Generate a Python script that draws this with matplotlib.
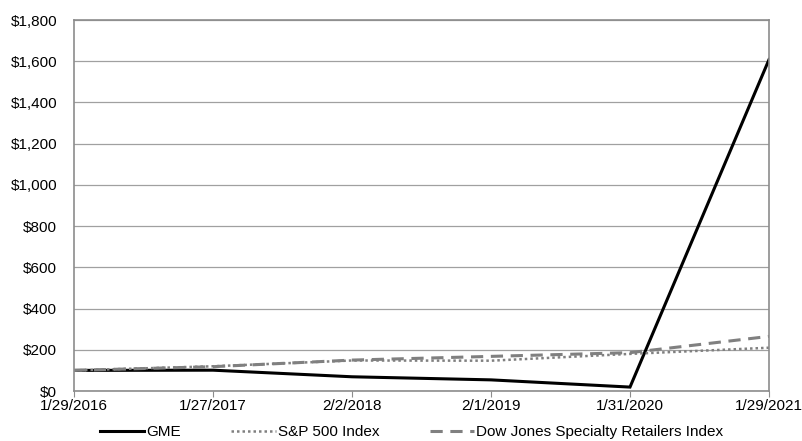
import matplotlib
matplotlib.use("Agg")
import matplotlib.pyplot as plt
from matplotlib.ticker import FuncFormatter

plt.rcParams['font.family'] = ['Liberation Sans', 'DejaVu Sans']

dates = ["1/29/2016", "1/27/2017", "2/2/2018", "2/1/2019", "1/31/2020", "1/29/2021"]
gme = [100, 101, 69, 54, 19, 1608]
sp500 = [100, 120, 148, 147, 180, 210]
dow_retail = [100, 118, 150, 168, 186, 265]
yticks = [0, 200, 400, 600, 800, 1000, 1200, 1400, 1600, 1800]

fig = plt.figure(figsize=(8.03, 4.41), dpi=100)
ax = fig.add_axes([74/803, 50/441, 695/803, 371/441])
x = list(range(len(dates)))
ax.plot(x, gme, color='black', lw=2.2, label='GME', solid_joinstyle='miter')
ax.plot(x, sp500, color='#808080', lw=1.8, ls=(0, (1, 1.2)), label='S&P 500 Index')
ax.plot(x, dow_retail, color='#808080', lw=2.2, ls=(0, (4, 2.5)), label='Dow Jones Specialty Retailers Index')

ax.set_xlim(0, len(dates) - 1)
ax.set_ylim(0, 1800)
ax.set_yticks(yticks)
ax.yaxis.set_major_formatter(FuncFormatter(lambda v, p: f"${int(v):,}"))
ax.set_xticks(x)
ax.set_xticklabels(dates)
ax.grid(axis='y', color='#a0a0a0', lw=0.9)
ax.set_axisbelow(True)
for s in ax.spines.values():
    s.set_color('#8c8c8c')
    s.set_linewidth(1.2)
ax.tick_params(axis='y', length=0, labelsize=11, pad=12)
ax.tick_params(axis='x', length=4, color='#8c8c8c', labelsize=11, pad=2, direction='out')

fig.legend(loc='center', bbox_to_anchor=(411.5/803, 1 - 432/441), ncol=3, frameon=False,
           fontsize=11, handlelength=2.9, columnspacing=3.3, handletextpad=0.15,
           borderpad=0, borderaxespad=0)
fig.savefig('out.png', dpi=100)
